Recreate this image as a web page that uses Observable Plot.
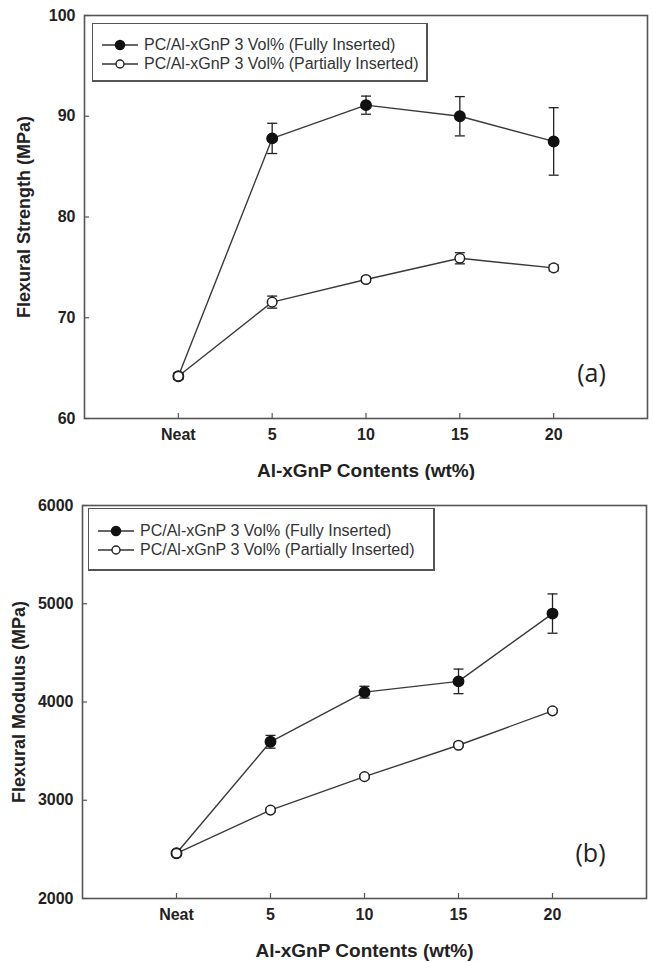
<!DOCTYPE html>
<html>
<head>
<meta charset="utf-8">
<script src="https://cdn.jsdelivr.net/npm/d3@7"></script>
<script src="https://cdn.jsdelivr.net/npm/@observablehq/plot@0.6"></script>
<style>
  html, body { margin: 0; padding: 0; background: #fff; }
  #page { width: 653px; font-family: "Liberation Sans", Arial, sans-serif; }
  .panel { position: relative; width: 653px; }
  .panel svg { display: block; }
  .legend { position: absolute; box-sizing: border-box; border: 1.5px solid #555; border-right-width: 2px; border-bottom-width: 2px; background: #fff; }
  .legend .row { position: absolute; left: 0; display: flex; align-items: center; height: 18px; }
  .legend .row svg { display: block; }
  .legend .row span { font-size: 16px; color: #333; white-space: nowrap; margin-left: 5px; }
</style>
</head>
<body>
<div id="page"></div>
<script>
// ---- data ----
const contents = [0, 5, 10, 15, 20];          // wt% (0 = Neat)
const contentLabels = ["Neat", "5", "10", "15", "20"];
const seriesNames = ["PC/Al-xGnP 3 Vol% (Fully Inserted)", "PC/Al-xGnP 3 Vol% (Partially Inserted)"];

const strengthFull = [64.2, 87.8, 91.1, 90.0, 87.5];
const strengthFullErr = [0.3, 1.5, 0.9, 1.95, 3.35];
const strengthPartial = [64.2, 71.55, 73.8, 75.9, 74.95];
const strengthPartialErr = [0.3, 0.6, 0.25, 0.55, 0.3];
const strengthTicks = [60, 70, 80, 90, 100];

const modulusFull = [2460, 3595, 4100, 4210, 4900];
const modulusFullErr = [20, 65, 60, 125, 200];
const modulusPartial = [2460, 2900, 3240, 3560, 3910];
const modulusPartialErr = [15, 20, 20, 20, 20];
const modulusTicks = [2000, 3000, 4000, 5000, 6000];

const xTitle = "Al-xGnP Contents (wt%)";

// cap symbol for error bars
const capSymbol = {
  draw(context, size) {
    const w = Math.sqrt(size / Math.PI);
    context.moveTo(-w, 0);
    context.lineTo(w, 0);
  }
};

function rows(values, errs, series) {
  return contents.map((x, i) => ({x, y: values[i], lo: values[i] - errs[i], hi: values[i] + errs[i], series}));
}

function panel(opts) {
  const full = rows(opts.full, opts.fullErr, seriesNames[0]);
  const partial = rows(opts.partial, opts.partialErr, seriesNames[1]);
  const lineColor = "#3a3a3a";
  const bold = {fontSize: 16, fontWeight: "bold", fill: "#222"};
  const chart = Plot.plot({
    width: 653,
    height: opts.height,
    marginTop: opts.marginTop,
    marginBottom: opts.marginBottom,
    marginLeft: opts.marginLeft,
    marginRight: opts.marginRight,
    style: {fontFamily: "'Liberation Sans', Arial, sans-serif", background: "#fff", overflow: "visible"},
    x: {domain: [-5, 25]},
    y: {domain: opts.yDomain},
    marks: [
      Plot.line(full, {x: "x", y: "y", stroke: lineColor, strokeWidth: 1.4}),
      Plot.line(partial, {x: "x", y: "y", stroke: lineColor, strokeWidth: 1.4}),
      Plot.ruleX([...full, ...partial], {x: "x", y1: "lo", y2: "hi", stroke: "#222", strokeWidth: 1.3}),
      Plot.dot([...full, ...partial], {x: "x", y: "lo", symbol: capSymbol, r: 5, stroke: "#222", strokeWidth: 1.3}),
      Plot.dot([...full, ...partial], {x: "x", y: "hi", symbol: capSymbol, r: 5, stroke: "#222", strokeWidth: 1.3}),
      Plot.dot(full, {x: "x", y: "y", r: 5.2, fill: "#111", stroke: "#111"}),
      Plot.dot(partial, {x: "x", y: "y", r: 4.8, fill: "#fff", stroke: "#222", strokeWidth: 1.5}),
      Plot.frame({stroke: "#555", strokeWidth: 1.6}),
      Plot.axisX({ticks: contents, tickSize: -5, fill: "none", stroke: "#555", strokeWidth: 1.2, label: null}),
      Plot.axisX({ticks: contents, tickSize: 0, tickPadding: 10, tickFormat: d => contentLabels[contents.indexOf(d)], label: null, ...bold}),
      Plot.axisY({ticks: opts.yTicks, tickSize: -5, fill: "none", stroke: "#555", strokeWidth: 1.2, label: null}),
      Plot.axisY({ticks: opts.yTicks, tickSize: 0, tickPadding: 9, tickFormat: d => String(d), label: null, ...bold}),
      Plot.text([xTitle], {text: d => d, frameAnchor: "bottom", dy: 52, lineAnchor: "middle", fontSize: 19, fontWeight: "bold", fill: "#222"}),
      Plot.text([opts.yTitle], {text: d => d, frameAnchor: "left", rotate: -90, dx: opts.yTitleDx, lineAnchor: "middle", textAnchor: "middle", fontSize: 18, fontWeight: "bold", fill: "#222"}),
      Plot.text([opts.tag], {text: d => d, frameAnchor: "bottom-right", dx: -56, dy: -45, textAnchor: "middle", lineAnchor: "middle", fontSize: 25, fontFamily: "'Open Sans', sans-serif", fill: "#222"})
    ]
  });
  const wrap = document.createElement("div");
  wrap.className = "panel";
  wrap.appendChild(chart);
  // legend
  const lg = document.createElement("div");
  lg.className = "legend";
  Object.assign(lg.style, {left: opts.legend.left + "px", top: opts.legend.top + "px", width: opts.legend.width + "px", height: opts.legend.height + "px"});
  seriesNames.forEach((name, i) => {
    const row = document.createElement("div");
    row.className = "row";
    row.style.left = "8px";
    row.style.top = (opts.legend.rowTop + i * opts.legend.rowGap - 9) + "px";
    const ns = "http://www.w3.org/2000/svg";
    const s = document.createElementNS(ns, "svg");
    s.setAttribute("width", 38); s.setAttribute("height", 18);
    const ln = document.createElementNS(ns, "line");
    ln.setAttribute("x1", 1); ln.setAttribute("x2", 37); ln.setAttribute("y1", 9); ln.setAttribute("y2", 9);
    ln.setAttribute("stroke", "#333"); ln.setAttribute("stroke-width", 1.4);
    const c = document.createElementNS(ns, "circle");
    c.setAttribute("cx", 19); c.setAttribute("cy", 9); c.setAttribute("r", i === 0 ? 4.5 : 4);
    c.setAttribute("fill", i === 0 ? "#111" : "#fff"); c.setAttribute("stroke", i === 0 ? "#111" : "#222"); c.setAttribute("stroke-width", 1.4);
    s.appendChild(ln); s.appendChild(c);
    const t = document.createElement("span");
    t.textContent = name;
    row.appendChild(s); row.appendChild(t);
    lg.appendChild(row);
  });
  wrap.appendChild(lg);
  return wrap;
}

const page = document.getElementById("page");
page.appendChild(panel({
  height: 480, marginTop: 15, marginBottom: 62, marginLeft: 84, marginRight: 6,
  yDomain: [60, 100], yTicks: strengthTicks,
  full: strengthFull, fullErr: strengthFullErr, partial: strengthPartial, partialErr: strengthPartialErr,
  yTitle: "Flexural Strength (MPa)", yTitleDx: -60, tag: "(a)",
  legend: {left: 92, top: 23, width: 336, height: 59, rowTop: 21, rowGap: 19}
}));
page.appendChild(panel({
  height: 482, marginTop: 25, marginBottom: 64, marginLeft: 82, marginRight: 7,
  yDomain: [2000, 6000], yTicks: modulusTicks,
  full: modulusFull, fullErr: modulusFullErr, partial: modulusPartial, partialErr: modulusPartialErr,
  yTitle: "Flexural Modulus (MPa)", yTitleDx: -63, tag: "(b)",
  legend: {left: 88, top: 28, width: 347, height: 63, rowTop: 22, rowGap: 19}
}));
</script>
</body>
</html>
